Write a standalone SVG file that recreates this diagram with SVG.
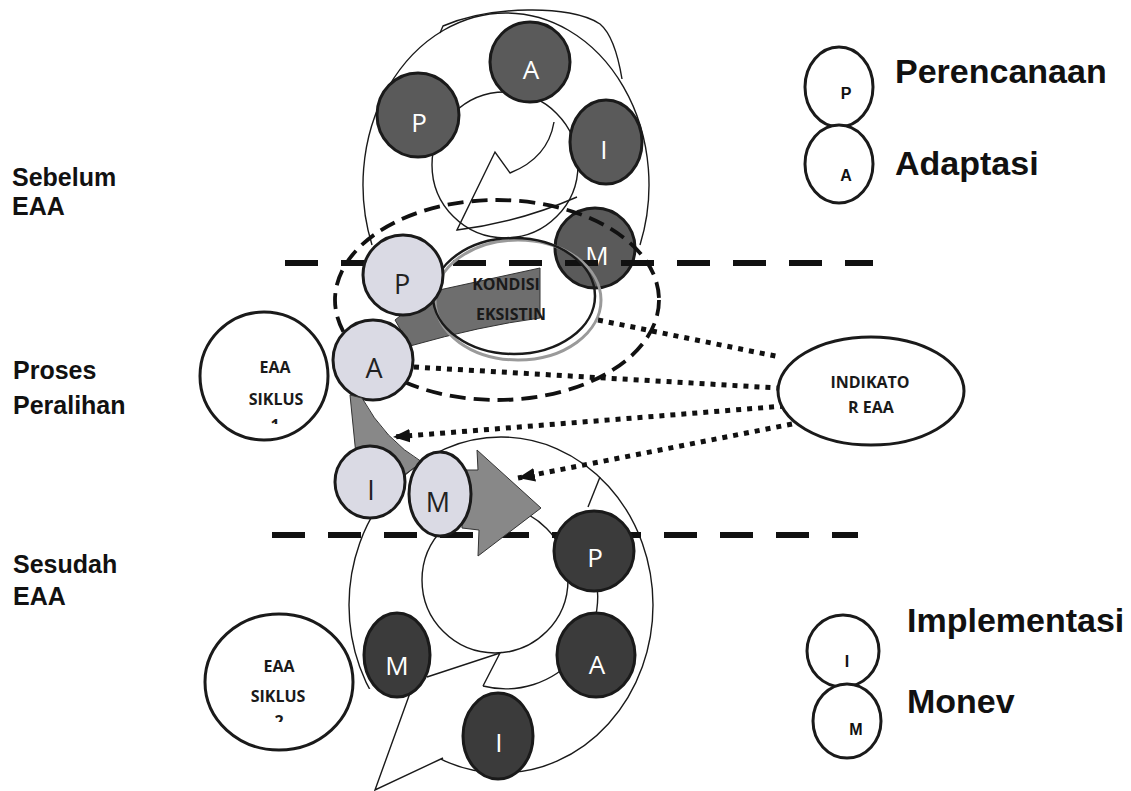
<svg xmlns="http://www.w3.org/2000/svg" width="1131" height="791" viewBox="0 0 1131 791">
<defs>
<style>
.ring{fill:#fff;stroke:#1a1a1a;stroke-width:1.4}
.ln{fill:none;stroke:#1a1a1a;stroke-width:1.4}
.dk1{fill:#5a5a5a;stroke:#1a1a1a;stroke-width:3}
.dk2{fill:#3b3b3b;stroke:#1a1a1a;stroke-width:3}
.lt{fill:#dadae4;stroke:#1a1a1a;stroke-width:3}
.wc{fill:#fff;stroke:#1a1a1a;stroke-width:3}
.wl{fill:#fff;font-family:'Open Sans','Liberation Sans',sans-serif;font-size:26px;text-anchor:middle}
.bl{fill:#222;font-family:'Open Sans','Liberation Sans',sans-serif;font-size:27px;text-anchor:middle}
.lab{fill:#111;font-family:'Liberation Sans',Arial,sans-serif;font-weight:bold;font-size:25px}
.leg{fill:#111;font-family:'Liberation Sans',Arial,sans-serif;font-weight:bold;font-size:34px}
.legs{fill:#111;font-family:'Liberation Sans',Arial,sans-serif;font-weight:bold;font-size:16px;text-anchor:middle}
.sm{fill:#1a1a1a;font-family:'Open Sans','Liberation Sans',sans-serif;font-weight:700;font-size:16px;text-anchor:middle}
.dash{fill:none;stroke:#111;stroke-width:6;stroke-dasharray:33 23}
.dot{fill:none;stroke:#111;stroke-width:5;stroke-dasharray:5 6}
.gray1{fill:#6e6e6e;stroke:#333;stroke-width:1}
.gray2{fill:#888;stroke:#333;stroke-width:1}
</style>
<marker id="ah" viewBox="0 0 10 8" refX="10" refY="4" markerWidth="3.4" markerHeight="2.8" orient="auto" markerUnits="strokeWidth">
<path d="M0,0 L10,4 L0,8 z" fill="#111"/>
</marker>
<clipPath id="c1"><rect x="255" y="405" width="40" height="19"/></clipPath>
<clipPath id="c2"><rect x="260" y="705" width="40" height="17"/></clipPath>
</defs>

<!-- top ring -->
<g id="top-ring">
<path class="ring" d="M372,245 A143,172 0 1 1 640,245"/>
<path class="ln" d="M440,33 L443,26 C490,6 570,4 600,24 C612,34 618,55 622,79"/>
<circle class="ring" cx="505" cy="165" r="73"/>
<path class="ln" d="M554,122 Q548,158 510,173 L495,152 L457,230 Q520,222 577,197"/>
</g>
<g id="top-P"><ellipse class="dk1" cx="418" cy="115" rx="41" ry="42"/><text class="wl" x="419" y="132">P</text></g>
<g id="top-A"><circle class="dk1" cx="530" cy="62" r="40"/><text class="wl" x="531" y="79">A</text></g>
<g id="top-I"><ellipse class="dk1" cx="606" cy="142" rx="36" ry="42"/><text class="wl" x="604" y="159">I</text></g>
<g id="top-M"><circle class="dk1" cx="595" cy="248" r="40"/><text class="wl" x="597" y="265">M</text></g>

<path class="dash" d="M285,263 L873,263"/>

<ellipse cx="497" cy="300" rx="162" ry="100" fill="none" stroke="#111" stroke-width="3.8" stroke-dasharray="16 8"/>

<g id="kondisi">
<path class="gray1" d="M430,292 L540,268 L540,318 Q480,326 410,346 L395,320 Z"/>
<ellipse cx="518" cy="300" rx="83" ry="60" fill="none" stroke="#9a9a9a" stroke-width="3"/>
<ellipse cx="514" cy="296" rx="81" ry="58" fill="none" stroke="#1a1a1a" stroke-width="2.5"/>
<text class="sm" x="506" y="290">KONDISI</text>
<text class="sm" x="511" y="320">EKSISTIN</text>
</g>

<g id="eaa1">
<circle class="wc" cx="264" cy="376" r="64"/>
<text class="sm" x="275" y="373" font-size="17">EAA</text>
<text class="sm" x="276" y="405" font-size="17">SIKLUS</text>
<text class="sm" x="275" y="431" font-size="17" clip-path="url(#c1)">1</text>
</g>

<g id="tr-P"><circle class="lt" cx="403" cy="275" r="40"/><text class="bl" x="402" y="294">P</text></g>
<g id="tr-A"><circle class="lt" cx="373" cy="360" r="40"/><text class="bl" x="374" y="378">A</text></g>

<!-- bottom ring -->
<g id="bottom-ring">
<ellipse class="ring" cx="501" cy="605" rx="152" ry="168"/>
<circle class="ring" cx="495" cy="580" r="73"/>
<path class="ln" d="M588,507 L600,477"/>
<path class="ln" d="M590,560 A92,92 0 0 1 483,686"/>
<path d="M352,690 L430,685 L470,700 L447,756 L376,792 L360,740 Z" fill="#fff"/>
<path class="ln" d="M410,693 L375,790 L443,758"/>
<path class="ln" d="M427,677 L500,653 L483,686"/>
</g>

<path class="dash" d="M272,535 L858,535"/>

<g id="bot-P"><circle class="dk2" cx="594" cy="551" r="40"/><text class="wl" x="595" y="567">P</text></g>
<g id="bot-A"><ellipse class="dk2" cx="596" cy="655" rx="39" ry="42"/><text class="wl" x="597" y="674">A</text></g>
<g id="bot-I"><ellipse class="dk2" cx="498" cy="736" rx="35" ry="43"/><text class="wl" x="499" y="752">I</text></g>
<g id="bot-M"><ellipse class="dk2" cx="397" cy="655" rx="33" ry="42"/><text class="wl" x="397" y="675">M</text></g>

<g id="flow-arrow">
<path class="gray2" d="M350,395 L362,398 Q385,440 422,462 L400,478 L356,455 Z"/>
<path class="gray2" d="M462,470 L478,470 L477,450 L541,508 L478,556 L479,530 L462,528 Z"/>
</g>

<g id="tr-I"><ellipse class="lt" cx="370" cy="482" rx="35" ry="36"/><text class="bl" x="371" y="500">I</text></g>
<g id="tr-M"><ellipse class="lt" cx="440" cy="494" rx="31" ry="42"/><text class="bl" x="438" y="512">M</text></g>

<g id="connectors">
<path class="dot" d="M598,320 L780,357"/>
<path class="dot" d="M414,367 L778,388"/>
<path class="dot" d="M785,406 L393,437" marker-end="url(#ah)"/>
<path class="dot" d="M792,424 L518,478" marker-end="url(#ah)"/>
</g>

<g id="indikator">
<ellipse class="wc" cx="871" cy="391" rx="93" ry="54"/>
<text class="sm" x="870" y="388" font-size="17">INDIKATO</text>
<text class="sm" x="871" y="413" font-size="17">R EAA</text>
</g>

<g id="eaa2">
<ellipse class="wc" cx="279" cy="682" rx="74" ry="68"/>
<text class="sm" x="279" y="672" font-size="17">EAA</text>
<text class="sm" x="278" y="702" font-size="17">SIKLUS</text>
<text class="sm" x="279" y="727" font-size="17" clip-path="url(#c2)">2</text>
</g>

<g id="legend">
<ellipse class="wc" cx="839" cy="87" rx="34" ry="40"/>
<text class="legs" x="846" y="99">P</text>
<ellipse class="wc" cx="839" cy="164" rx="34" ry="39"/>
<text class="legs" x="846" y="181">A</text>
<text class="leg" x="895" y="83">Perencanaan</text>
<text class="leg" x="895" y="175">Adaptasi</text>
<ellipse class="wc" cx="843" cy="651" rx="36" ry="36"/>
<text class="legs" x="847" y="667" font-size="18">I</text>
<ellipse class="wc" cx="847" cy="721" rx="34" ry="37"/>
<text class="legs" x="856" y="735" font-size="18">M</text>
<text class="leg" x="907" y="632">Implementasi</text>
<text class="leg" x="907" y="713">Monev</text>
</g>

<g id="labels">
<text class="lab" x="12" y="186">Sebelum</text>
<text class="lab" x="12" y="215">EAA</text>
<text class="lab" x="13" y="379">Proses</text>
<text class="lab" x="13" y="414">Peralihan</text>
<text class="lab" x="13" y="573">Sesudah</text>
<text class="lab" x="13" y="605">EAA</text>
</g>
</svg>
